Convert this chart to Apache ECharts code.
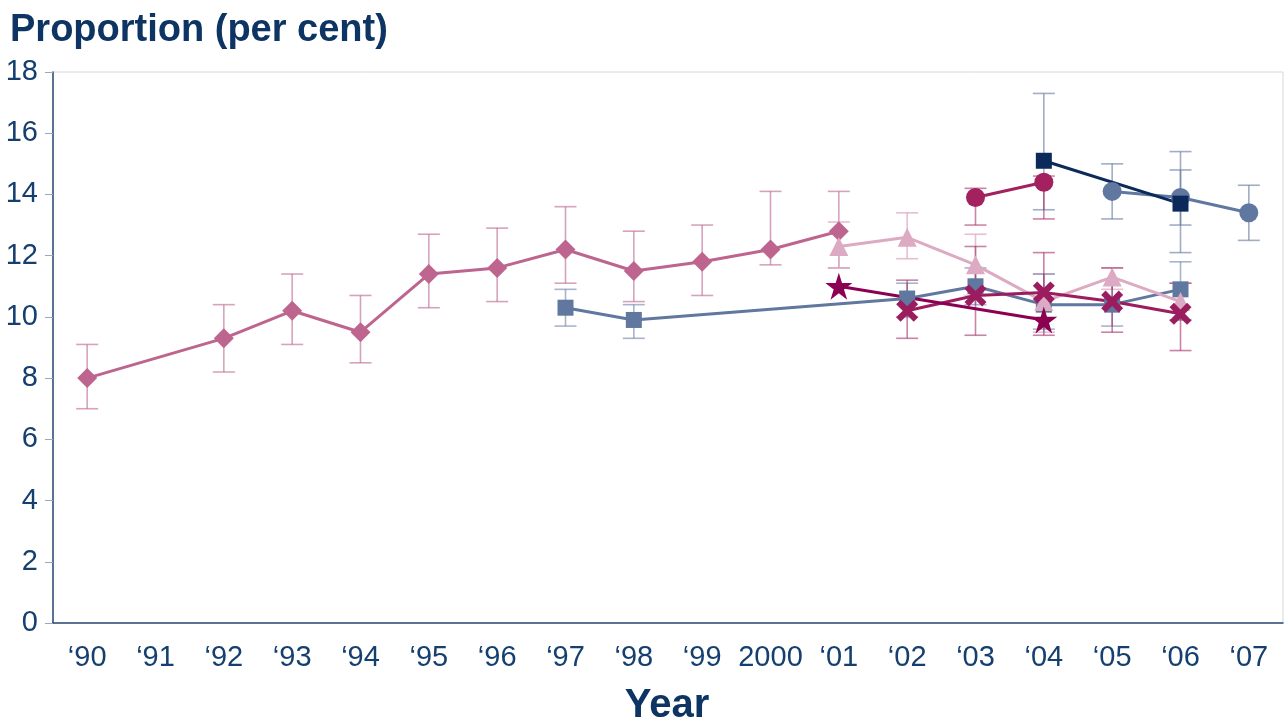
<!DOCTYPE html>
<html>
<head>
<meta charset="utf-8">
<script src="https://cdn.jsdelivr.net/npm/echarts@6/dist/echarts.min.js"></script>
<style>
  html, body { margin: 0; padding: 0; background: #fff; }
  #main { width: 1288px; height: 721px; }
</style>
</head>
<body>
<div id="main"></div>
<script>
var years = ['\u201890', '\u201891', '\u201892', '\u201893', '\u201894', '\u201895', '\u201896', '\u201897', '\u201898', '\u201899',
             '2000', '\u201801', '\u201802', '\u201803', '\u201804', '\u201805', '\u201806', '\u201807'];

// diamond series
var diamondVals = [8.0, null, 9.3, 10.2, 9.5, 11.4, 11.6, 12.2, 11.5, 11.8, 12.2, 12.8, null, null, null, null, null, null];
var diamondErr = [[0, 7.0, 9.1], [2, 8.2, 10.4], [3, 9.1, 11.4], [4, 8.5, 10.7], [5, 10.3, 12.7], [6, 10.5, 12.9],
                  [7, 11.1, 13.6], [8, 10.5, 12.8], [9, 10.7, 13.0], [10, 11.7, 14.1], [11, 11.6, 14.1]];
// light pink triangles
var triangleVals = [null, null, null, null, null, null, null, null, null, null, null, 12.3, 12.6, 11.7, 10.5, 11.3, 10.5, null];
var triangleErr = [[11, 11.6, 13.1], [12, 11.9, 13.4], [13, 10.7, 12.7], [14, 9.5, 11.4], [15, 10.9, 11.6], [16, 9.9, 11.1]];
// steel blue squares
var squareVals = [null, null, null, null, null, null, null, 10.3, 9.9, null, null, null, 10.6, 11.0, 10.4, 10.4, 10.9, null];
var squareErr = [[7, 9.7, 10.9], [8, 9.3, 10.4], [12, 10.0, 11.1], [13, 10.4, 11.6], [14, 9.6, 11.4], [15, 9.7, 11.2], [16, 9.9, 11.8]];
// navy squares
var navyVals = [null, null, null, null, null, null, null, null, null, null, null, null, null, null, 15.1, null, 13.7, null];
var navyErr = [[14, 13.5, 17.3], [16, 12.1, 15.4]];
// crimson circles
var crimsonVals = [null, null, null, null, null, null, null, null, null, null, null, null, null, 13.9, 14.4, null, null, null];
var crimsonErr = [[13, 13.0, 14.2], [14, 13.2, 14.6]];
// blue circles
var blueCircleVals = [null, null, null, null, null, null, null, null, null, null, null, null, null, null, null, 14.1, 13.9, 13.4];
var blueCircleErr = [[15, 13.2, 15.0], [16, 13.0, 14.8], [17, 12.5, 14.3]];
// crosses
var crossVals = [null, null, null, null, null, null, null, null, null, null, null, null, 10.2, 10.7, 10.8, 10.5, 10.1, null];
var crossErr = [[12, 9.3, 11.2], [13, 9.4, 12.3], [14, 9.4, 12.1], [15, 9.5, 11.6], [16, 8.9, 11.1]];
// stars
var starVals = [null, null, null, null, null, null, null, null, null, null, null, 11.0, null, null, 9.9, null, null, null];

var crossPath = 'path://M2,0 L5,3 L8,0 L10,2 L7,5 L10,8 L8,10 L5,7 L2,10 L0,8 L3,5 L0,2 Z';
var starPath = 'path://M50,0 L61.8,36.2 L100,36.2 L69.1,58.6 L80.9,95.1 L50,72.4 L19.1,95.1 L30.9,58.6 L0,36.2 L38.2,36.2 Z';

function errSeries(data, color) {
    return {
        type: 'custom',
        data: data,
        z: 1,
        silent: true,
        renderItem: function (params, api) {
            var x = api.value(0);
            var lo = api.coord([x, api.value(1)]);
            var hi = api.coord([x, api.value(2)]);
            var w = 11;
            var st = { stroke: color, lineWidth: 1.6, fill: null };
            return {
                type: 'group',
                children: [
                    { type: 'line', shape: { x1: lo[0], y1: lo[1], x2: hi[0], y2: hi[1] }, style: st },
                    { type: 'line', shape: { x1: lo[0] - w, y1: lo[1], x2: lo[0] + w, y2: lo[1] }, style: st },
                    { type: 'line', shape: { x1: hi[0] - w, y1: hi[1], x2: hi[0] + w, y2: hi[1] }, style: st }
                ]
            };
        }
    };
}

function lineSeries(vals, color, symbol, size) {
    return {
        type: 'line',
        data: vals,
        connectNulls: true,
        symbol: symbol,
        symbolSize: size,
        showAllSymbol: true,
        z: 3,
        lineStyle: { color: color, width: 3 },
        itemStyle: { color: color, opacity: 1 },
        emphasis: { disabled: true }
    };
}

var myChart = echarts.init(document.getElementById('main'));
myChart.setOption({
    animation: false,
    title: [
        { text: 'Proportion (per cent)', left: 5, top: 7,
          textStyle: { fontFamily: 'Liberation Sans', fontWeight: 'bold', fontSize: 38, color: '#0d3462' } },
        { text: 'Year', left: 662, top: 681, textAlign: 'center',
          textStyle: { fontFamily: 'Liberation Sans', fontWeight: 'bold', fontSize: 40, color: '#0d3462' } }
    ],
    grid: { left: 53, right: 5, top: 72, bottom: 98, show: true, borderColor: '#d8d8d8', borderWidth: 1 },
    xAxis: {
        type: 'category',
        data: years,
        boundaryGap: true,
        axisLine: { lineStyle: { color: '#2c4a74', width: 1.5 } },
        axisTick: { alignWithLabel: true, length: 9, lineStyle: { color: '#9aa9bf' } },
        axisLabel: { margin: 20, fontFamily: 'Liberation Sans', fontSize: 29, color: '#153f6f', interval: 0 }
    },
    yAxis: {
        type: 'value',
        min: 0, max: 18, interval: 2,
        splitLine: { show: false },
        axisLine: { show: true, lineStyle: { color: '#2c4a74', width: 1.5 } },
        axisTick: { show: true, length: 8, lineStyle: { color: '#9aa9bf' } },
        axisLabel: { margin: 15, fontFamily: 'Liberation Sans', fontSize: 29, color: '#153f6f' }
    },
    series: [
        errSeries(diamondErr, 'rgba(189,101,143,0.6)'),
        errSeries(triangleErr, 'rgba(220,170,195,0.75)'),
        errSeries(squareErr, 'rgba(96,119,159,0.55)'),
        errSeries(navyErr, 'rgba(96,119,159,0.6)'),
        errSeries(crimsonErr, 'rgba(163,33,95,0.55)'),
        errSeries(blueCircleErr, 'rgba(96,119,159,0.6)'),
        errSeries(crossErr, 'rgba(155,29,95,0.55)'),
        lineSeries(diamondVals, '#bd658f', 'diamond', 20),
        lineSeries(squareVals, '#60779f', 'rect', 16),
        lineSeries(triangleVals, '#dcaac3', 'triangle', 19),
        lineSeries(blueCircleVals, '#60779f', 'circle', 19),
        lineSeries(navyVals, '#0b2a5a', 'rect', 16),
        lineSeries(crimsonVals, '#a3215f', 'circle', 19),
        lineSeries(crossVals, '#9b1d5f', crossPath, 22),
        lineSeries(starVals, '#8c0052', starPath, 27)
    ]
});
</script>
</body>
</html>
